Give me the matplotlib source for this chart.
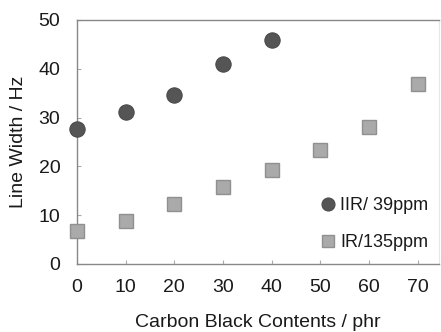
import matplotlib
matplotlib.use("Agg")
import matplotlib.pyplot as plt

plt.rcParams['font.family'] = ['Liberation Sans', 'DejaVu Sans']

x_iir = [0, 10, 20, 30, 40]
y_iir = [27.7, 31.1, 34.7, 41.0, 45.9]
x_ir = [0, 10, 20, 30, 40, 50, 60, 70]
y_ir = [6.8, 8.9, 12.3, 15.7, 19.3, 23.4, 28.1, 36.8]
label_iir = "IIR/ 39ppm"
label_ir = "IR/135ppm"
xticks = [0, 10, 20, 30, 40, 50, 60, 70]
yticks = [0, 10, 20, 30, 40, 50]

fig = plt.figure(figsize=(4.41, 3.32), dpi=100)
ax = fig.add_axes([77/441, 68/332, 362/441, 244/332])

ax.plot(x_iir, y_iir, linestyle='none', marker='o', markersize=11,
        markerfacecolor='#555555', markeredgecolor='#4a4a4a', markeredgewidth=0.8,
        label=label_iir, clip_on=False, zorder=3)
ax.plot(x_ir, y_ir, linestyle='none', marker='s', markersize=9.5,
        markerfacecolor='#aaaaaa', markeredgecolor='#909090', markeredgewidth=1.0,
        label=label_ir, clip_on=False, zorder=3)

ax.set_xlim(0, 74.4)
ax.set_ylim(0, 50)
ax.set_xticks(xticks)
ax.set_yticks(yticks)
ax.tick_params(direction='in', length=3, width=0.8, color='#aaaaaa',
               labelsize=14, labelcolor='#1a1a1a')
ax.tick_params(axis='x', pad=11)
ax.tick_params(axis='y', pad=12)
for side in ['left', 'bottom', 'top']:
    ax.spines[side].set_color('#888888')
    ax.spines[side].set_linewidth(1.0)
ax.spines['right'].set_color('#e6e6e6')

ax.set_xlabel("Carbon Black Contents / phr", fontsize=14, color='#1a1a1a', labelpad=13)
ax.set_ylabel("Line Width / Hz", fontsize=14, color='#1a1a1a', labelpad=8)

leg = ax.legend(loc='lower right', bbox_to_anchor=(1.005, 0.0), frameon=False,
                fontsize=13, handletextpad=0.15, labelspacing=1.1,
                markerscale=0.85, handlelength=1.0, borderpad=0.2)
for t in leg.get_texts():
    t.set_color('#1a1a1a')

fig.savefig("out.png", dpi=100)
